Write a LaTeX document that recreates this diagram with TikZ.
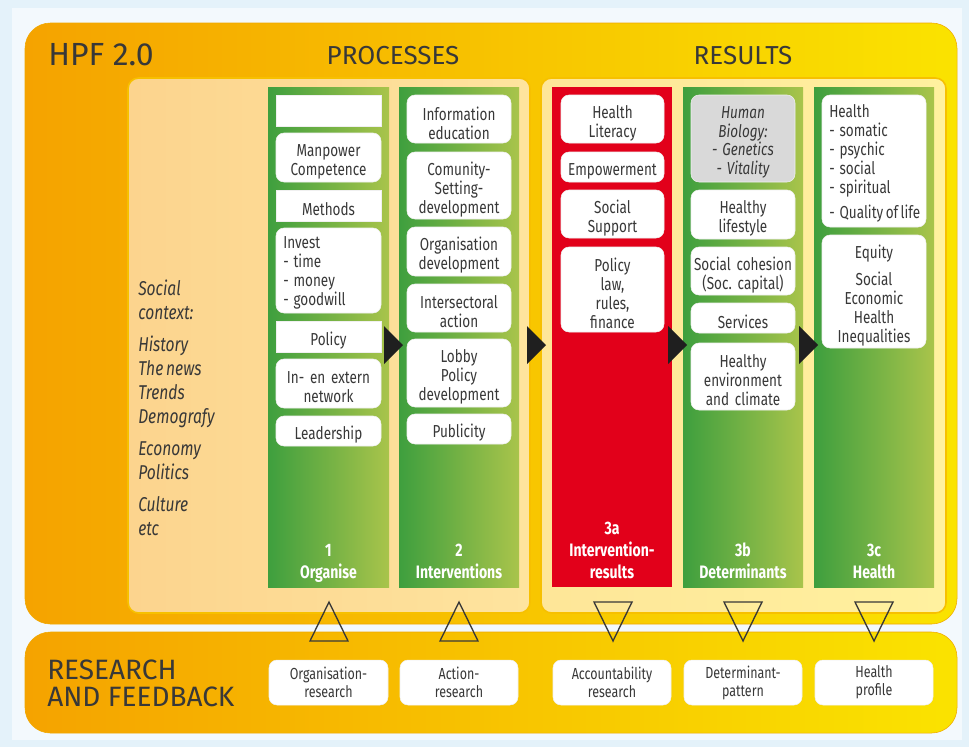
\documentclass[tikz,border=0pt]{standalone}
\usepackage{fontspec}
\setmainfont{Fira Sans}
\newfontfamily\cond{Fira Sans}[FakeStretch=0.78,WordSpace=0.7]
\frenchspacing
\definecolor{bgblue}{HTML}{E4F2FA}
\definecolor{orL}{HTML}{F5A300}
\definecolor{orR}{HTML}{FAE300}
\definecolor{orEdge}{HTML}{F0A800}
\definecolor{pL}{HTML}{FCD48E}
\definecolor{pR}{HTML}{FEE49E}
\definecolor{rL}{HTML}{FEE698}
\definecolor{rR}{HTML}{FFF19F}
\definecolor{panEdge}{HTML}{F7C000}
\definecolor{gL}{HTML}{3E9F3E}
\definecolor{gR}{HTML}{A9C44B}
\definecolor{redc}{HTML}{E2001A}
\definecolor{grayc}{HTML}{D9D9D9}
\definecolor{txt}{HTML}{383838}
\newcommand\dsh{-\hspace{0.28em}}
\newcommand\tshift{-3pt}
\newcommand\bx[7][wbox]{\node[#1, minimum width={(#5-#3)*0.75pt}, minimum height={(#6-#4)*0.75pt}] (#2) at ({(#3+#5)/2},{(#4+#6)/2}) {};
 \node[#1, fill=none, draw=none, text width={(#5-#3-4)*0.75pt}, yshift=\tshift] (#2t) at (#2.center) {#7};}
\newcommand\bxl[7][wbox]{\node[#1, minimum width={(#5-#3)*0.75pt}, minimum height={(#6-#4)*0.75pt}] (#2) at ({(#3+#5)/2},{(#4+#6)/2}) {};
 \node[ltext, anchor=west] (#2t) at ({#3+7},{(#4+#6)/2+2.5}) {#7};}
\newcommand\col[6][colg]{\node[#1, minimum width={(#5-#3)*0.75pt}, minimum height={(#6-#4)*0.75pt}] (#2) at ({(#3+#5)/2},{(#4+#6)/2}) {};}
\begin{document}
\begin{tikzpicture}[x=0.75pt,y=-0.75pt,
 wbox/.style={fill=white, draw=black!6, line width=0.4pt, rounded corners=6pt, inner sep=0pt, align=center, text=txt, font=\cond\fontsize{13}{14.25}\selectfont},
 sbox/.style={wbox, rounded corners=0pt},
 gbox/.style={wbox, fill=grayc, font=\cond\itshape\fontsize{13}{14}\selectfont},
 ltext/.style={inner sep=0pt, align=left, text=txt, font=\cond\fontsize{13}{14.25}\selectfont},
 colg/.style={inner sep=0pt, left color=gL, right color=gR},
 colr/.style={inner sep=0pt, fill=redc},
 lbl/.style={inner sep=0pt, align=center, text=white, font=\cond\bfseries\fontsize{13.5}{16.5}\selectfont},
 ttl/.style={inner sep=0pt, text=txt, font=\fontsize{19.5}{22}\selectfont},
 rbox/.style={wbox, font=\cond\fontsize{12}{13.5}\selectfont},
 ctx/.style={inner sep=0pt, align=left, text=txt, font=\cond\itshape\fontsize{15}{18}\selectfont},
 fb/.style={draw=txt, line width=1pt, line join=miter},
 arr/.style={fill=black!88},
]
\useasboundingbox (0,0) rectangle (969,747);
\fill[bgblue] (0,0) rectangle (969,747);
\fill[bgblue!45!white] (12,8) rectangle (962,740);
% outer boxes
\shadedraw[left color=orL, right color=orR, draw=orEdge, rounded corners=19pt] (25,23) rectangle (957,624);
\shadedraw[left color=orL, right color=orR, draw=orEdge, rounded corners=19pt] (25,632) rectangle (957,733);
% panels
\shadedraw[left color=pL, right color=pR, draw=panEdge, line width=1.2pt, rounded corners=8pt] (128,78) rectangle (530,613);
\shadedraw[left color=rL, right color=rR, draw=panEdge, line width=1.2pt, rounded corners=8pt] (541,78) rectangle (946,613);
% titles
\node[ttl, anchor=base west, font=\fontsize{24}{26}\selectfont] (hpf) at (48,65) {HPF 2.0};
\node[ttl, anchor=base] (proc) at (393,64) {PROCESSES};
\node[ttl, anchor=base] (res) at (743,64) {RESULTS};
\node[ttl, anchor=north west, align=left, font=\fontsize{21}{20.5}\selectfont] (rf) at (47,659.5) {RESEARCH\\AND FEEDBACK};
% social context
\node[ctx, anchor=north west] (soc) at (138,280) {Social\\context:\\[6pt]History\\The news\\Trends\\Demografy\\[6pt]Economy\\Politics\\[6pt]Culture\\etc};
% columns
\col{c1}{268}{87}{389}{587}
\col{c2}{399}{87}{519}{587}
\col[colr]{c3a}{552}{87}{672}{587}
\col{c3b}{683}{87}{803}{587}
\col{c3c}{814}{87}{934}{587}
\node[lbl, anchor=south] (l1) at (328.5,585) {1\\Organise\strut};
\node[lbl, anchor=south] (l2) at (459,585) {2\\Interventions\strut};
\node[lbl, anchor=south] (l3a) at (612,585) {3a\\Intervention-\\results\strut};
\node[lbl, anchor=south] (l3b) at (743,585) {3b\\Determinants\strut};
\node[lbl, anchor=south] (l3c) at (874,585) {3c\\Health\strut};
% arrows
\fill[arr] (384,326) -- (403,345) -- (384,364) -- cycle;
\fill[arr] (527,326) -- (546,345) -- (527,364) -- cycle;
\fill[arr] (668,326) -- (687,345) -- (668,364) -- cycle;
\fill[arr] (799,326) -- (818,345) -- (799,364) -- cycle;
% column 1
\bx[sbox]{o0}{276}{95}{381}{126}{}
\bx{o1}{276}{133}{381}{182}{Manpower\\Competence}
\bx[sbox]{o2}{276}{190}{381}{221}{Methods}
\bxl{o3}{276}{228}{381}{313}{Invest\\\dsh time\\\dsh money\\\dsh goodwill}
\bx[sbox]{o4}{276}{321}{381}{352}{Policy}
\bx{o5}{276}{359}{381}{408}{In- en extern\\network}
\bx{o6}{276}{416}{381}{446}{Leadership}
% column 2
\bx{i1}{407}{95}{511}{143}{Information\\education}
\bx{i2}{407}{152}{511}{219}{Comunity-\\Setting-\\development}
\bx{i3}{407}{227}{511}{276}{Organisation\\development}
\bx{i4}{407}{284}{511}{332}{Intersectoral\\action}
\bx{i5}{407}{339}{511}{407}{Lobby\\Policy\\development}
\bx{i6}{407}{414}{511}{444}{Publicity}
% column 3a
\bx{r1}{561}{95}{664}{143}{Health\\Literacy}
\bx{r2}{561}{152}{664}{182}{Empowerment}
\bx{r3}{561}{190}{664}{238}{Social\\Support}
\bx{r4}{561}{247}{664}{332}{Policy\\law,\\rules,\\finance}
% column 3b
\bx[gbox]{d1}{691}{95}{795}{182}{Human\\Biology:\\\dsh Genetics\\\dsh Vitality}
\bx{d2}{691}{190}{795}{239}{Healthy\\lifestyle}
\bx{d3}{691}{247}{795}{295}{Social cohesion\\(Soc. capital)}
\bx{d4}{691}{303}{795}{333}{Services}
\bx{d5}{691}{343}{795}{410}{Healthy\\environment\\and climate}
% column 3c
\bxl{h1}{822}{95}{926}{227}{Health\\\dsh somatic\\\dsh psychic\\\dsh social\\\dsh spiritual\\[5pt]\dsh Quality of life}
\bx{h2}{822}{235}{926}{348}{Equity\\[6pt]Social\\Economic\\Health\\Inequalities}
% feedback boxes
\renewcommand\tshift{0pt}
\bx[rbox]{f1}{269}{660}{388}{705}{Organisation-\\research}
\bx[rbox]{f2}{400}{660}{518}{705}{Action-\\research}
\bx[rbox]{f3}{553}{660}{671}{705}{Accountability\\research}
\bx[rbox]{f4}{684}{660}{802}{705}{Determinant-\\pattern}
\bx[rbox]{f5}{815}{660}{933}{705}{Health\\profile}
% feedback triangles
\draw[fb] (310,641) -- (329,602) -- (348,641) -- cycle;
\draw[fb] (440,641) -- (459,602) -- (478,641) -- cycle;
\draw[fb] (594,602) -- (632,602) -- (613,641) -- cycle;
\draw[fb] (724,602) -- (762,602) -- (743,641) -- cycle;
\draw[fb] (855,602) -- (893,602) -- (874,641) -- cycle;
\end{tikzpicture}
\end{document}
